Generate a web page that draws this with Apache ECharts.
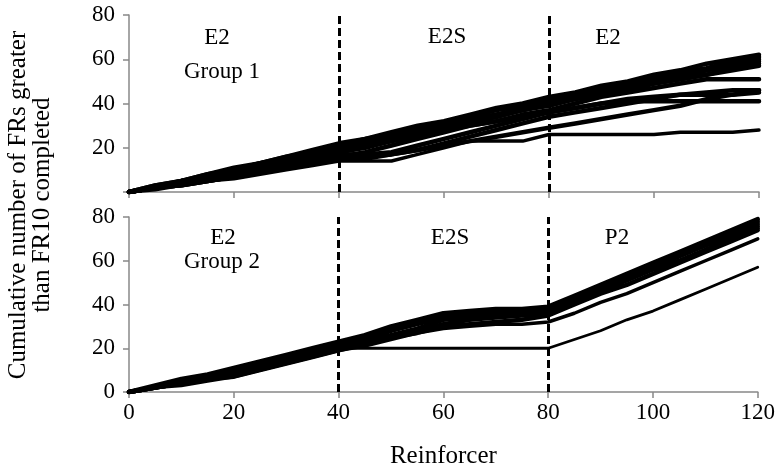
<!DOCTYPE html>
<html>
<head>
<meta charset="utf-8">
<script src="https://cdn.jsdelivr.net/npm/echarts@6/dist/echarts.min.js"></script>
<style>
  html, body { margin: 0; padding: 0; background: #fff; }
  #main { width: 778px; height: 470px; }
</style>
</head>
<body>
<div id="main"></div>
<script>
// reinforcer positions where each subject's cumulative count was read
const reinforcers = [0, 5, 10, 15, 20, 25, 30, 35, 40, 45, 50, 55, 60, 65, 70, 75, 80, 85, 90, 95, 100, 105, 110, 115, 120];

// Group 1: E2 -> E2S -> E2
const group1 = [
  [0, 3, 5, 8, 11, 13, 16, 19, 22, 24, 27, 30, 32, 35, 38, 40, 43, 45, 48, 50, 53, 55, 58, 60, 62],
  [0, 2, 5, 7, 10, 13, 15, 18, 21, 24, 26, 29, 31, 34, 37, 39, 42, 44, 47, 49, 52, 54, 56, 59, 61],
  [0, 2, 4, 7, 9, 12, 14, 17, 20, 23, 25, 28, 30, 33, 35, 38, 41, 43, 46, 48, 51, 53, 55, 58, 60],
  [0, 3, 5, 8, 10, 13, 16, 18, 21, 23, 25, 27, 30, 32, 35, 37, 40, 43, 45, 48, 50, 52, 55, 57, 59],
  [0, 2, 4, 6, 9, 11, 14, 16, 19, 22, 24, 27, 29, 32, 34, 37, 39, 42, 44, 46, 49, 51, 53, 56, 58],
  [0, 2, 4, 6, 8, 11, 13, 15, 18, 20, 23, 26, 28, 31, 34, 37, 40, 42, 44, 47, 49, 51, 53, 55, 57],
  [0, 2, 5, 7, 9, 11, 14, 16, 19, 21, 23, 25, 28, 30, 32, 35, 37, 40, 43, 45, 47, 49, 51, 51, 51],
  [0, 2, 3, 5, 7, 9, 11, 13, 16, 16, 17, 19, 22, 25, 28, 31, 34, 36, 38, 40, 42, 44, 45, 46, 46],
  [0, 2, 4, 6, 8, 10, 12, 15, 17, 17, 18, 21, 24, 27, 30, 33, 36, 38, 40, 42, 43, 44, 44, 44, 45],
  [0, 2, 3, 5, 7, 9, 11, 13, 15, 15, 17, 19, 21, 23, 25, 27, 29, 31, 33, 35, 37, 39, 42, 44, 46],
  [0, 2, 3, 5, 7, 9, 11, 13, 16, 18, 21, 24, 27, 30, 32, 34, 36, 38, 40, 41, 41, 41, 41, 41, 41],
  [0, 1, 3, 5, 6, 8, 10, 12, 14, 14, 14, 17, 20, 23, 23, 23, 26, 26, 26, 26, 26, 27, 27, 27, 28]
];
const widths1 = [4.5, 4.5, 4.5, 4.5, 4.5, 4.5, 4.5, 4.5, 4.5, 4.5, 4.5, 3.5];

// Group 2: E2 -> E2S -> P2
const group2 = [
  [0, 3, 6, 8, 11, 14, 17, 20, 23, 26, 30, 33, 36, 37, 38, 38, 39, 44, 49, 54, 59, 64, 69, 74, 79],
  [0, 2, 5, 7, 10, 13, 16, 19, 22, 25, 29, 32, 35, 36, 37, 37, 38, 43, 48, 53, 58, 63, 68, 73, 78],
  [0, 2, 4, 7, 9, 12, 15, 18, 21, 24, 28, 31, 34, 35, 36, 37, 38, 43, 48, 53, 58, 63, 67, 72, 77],
  [0, 2, 4, 6, 8, 11, 14, 17, 20, 23, 26, 29, 33, 34, 35, 36, 37, 42, 47, 52, 57, 62, 67, 71, 76],
  [0, 2, 4, 6, 8, 11, 14, 17, 20, 22, 25, 28, 31, 33, 34, 35, 36, 41, 46, 51, 56, 60, 65, 70, 75],
  [0, 2, 4, 6, 7, 10, 13, 16, 19, 22, 25, 27, 30, 31, 32, 33, 35, 40, 45, 49, 54, 59, 64, 69, 74],
  [0, 2, 3, 5, 7, 10, 13, 16, 19, 21, 24, 27, 29, 30, 31, 31, 32, 36, 41, 45, 50, 55, 60, 65, 70],
  [0, 2, 4, 6, 8, 11, 14, 17, 20, 20, 20, 20, 20, 20, 20, 20, 20, 24, 28, 33, 37, 42, 47, 52, 57]
];
const widths2 = [4.5, 4.5, 4.5, 4.5, 4.5, 4.5, 3.5, 2.8];

const phaseBreaks = [40, 80];
const phases1 = ['E2', 'E2S', 'E2'];
const phases2 = ['E2', 'E2S', 'P2'];

const serif = '"Liberation Serif", "DejaVu Serif", serif';

function toPoints(vals) {
  return vals.map((v, i) => [reinforcers[i], v]);
}

function makeSeries(group, widths, gi) {
  let list = group.map((vals, k) => ({
    type: 'line',
    xAxisIndex: gi,
    yAxisIndex: gi,
    data: toPoints(vals),
    showSymbol: false,
    symbol: 'none',
    silent: true,
    lineStyle: { color: '#000', width: widths[k], join: 'round', cap: 'round' },
    z: 3
  }));
  // dashed phase-change lines
  list.push({
    type: 'line',
    xAxisIndex: gi,
    yAxisIndex: gi,
    data: [],
    markLine: {
      silent: true,
      symbol: 'none',
      label: { show: false },
      lineStyle: { color: '#000', width: 3, type: [8, 4] },
      data: phaseBreaks.map(b => ({ xAxis: b }))
    }
  });
  return list;
}

const axisLine = { show: true, lineStyle: { color: '#888', width: 1.5 } };
const axisTick = { show: true, length: 6, lineStyle: { color: '#888', width: 1.5 } };

function xAxis(gi, showLabels) {
  return {
    type: 'value',
    gridIndex: gi,
    min: 0,
    max: 120,
    interval: 20,
    axisLine: axisLine,
    axisTick: axisTick,
    splitLine: { show: false },
    axisLabel: {
      show: showLabels,
      color: '#000',
      fontFamily: serif,
      fontSize: 23,
      margin: 9
    },
    name: showLabels ? 'Reinforcer' : '',
    nameLocation: 'middle',
    nameGap: 52,
    nameTextStyle: { color: '#000', fontFamily: serif, fontSize: 25 }
  };
}

function yAxis(gi, hideZero) {
  return {
    type: 'value',
    gridIndex: gi,
    min: 0,
    max: 80,
    interval: 20,
    axisLine: axisLine,
    axisTick: axisTick,
    splitLine: { show: false },
    axisLabel: {
      color: '#000',
      fontFamily: serif,
      fontSize: 23,
      margin: 14,
      formatter: v => (hideZero && v === 0 ? '' : String(v))
    }
  };
}

function txt(text, x, y) {
  return {
    type: 'text',
    x: x,
    y: y,
    style: {
      text: text,
      font: '23px ' + serif,
      fill: '#000',
      textAlign: 'center',
      textVerticalAlign: 'middle'
    }
  };
}

let option = {
  animation: false,
  backgroundColor: '#fff',
  grid: [
    { left: 129, top: 15, width: 630, height: 177 },
    { left: 129, top: 217, width: 630, height: 176 }
  ],
  xAxis: [xAxis(0, false), xAxis(1, true)],
  yAxis: [yAxis(0, true), yAxis(1, false)],
  series: makeSeries(group1, widths1, 0).concat(makeSeries(group2, widths2, 1)),
  graphic: [
    txt(phases1[0], 217, 38),
    txt('Group 1', 222, 72),
    txt(phases1[1], 447, 37),
    txt(phases1[2], 608, 38),
    txt(phases2[0], 223, 238),
    txt('Group 2', 222, 262),
    txt(phases2[1], 450, 238),
    txt(phases2[2], 617, 238),
    {
      type: 'text',
      x: 30,
      y: 205,
      rotation: Math.PI / 2,
      style: {
        text: 'Cumulative number of FRs greater\nthan FR10 completed',
        font: '25px ' + serif,
        fill: '#000',
        textAlign: 'center',
        textVerticalAlign: 'middle',
        lineHeight: 24
      }
    }
  ]
};

let chartDom = document.getElementById('main');
let myChart = echarts.init(chartDom);
myChart.setOption(option);
window.onresize = function () {
  myChart.resize();
};
</script>
</body>
</html>
